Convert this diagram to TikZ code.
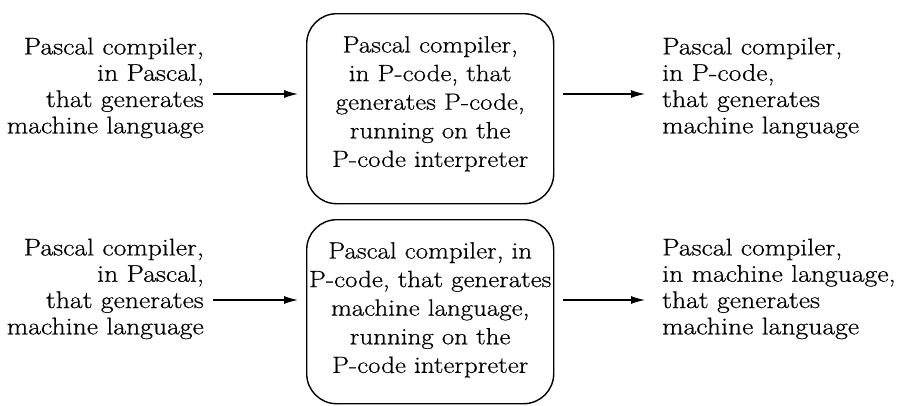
\documentclass[tikz,border=0pt]{standalone}
\usepackage{fontspec}
\setmainfont{Latin Modern Roman}[FakeStretch=1.15,FakeBold=0.6]
\usetikzlibrary{arrows.meta}
\begin{document}
\begin{tikzpicture}[x=1pt,y=-1pt,
  sidetext/.style={inner sep=0pt,font=\fontsize{24.1}{26.3}\selectfont},
  lefttext/.style={sidetext,align=right,anchor=north east},
  righttext/.style={sidetext,align=left,anchor=north west},
  boxtext/.style={inner sep=0pt,align=center,anchor=north,font=\fontsize{23.45}{28.6}\selectfont},
  stagebox/.style={draw,line width=1.4pt,rounded corners=30pt},
  flow/.style={line width=1.2pt,-{Latex[length=14pt,width=8pt]}}]
\useasboundingbox (0,0) rectangle (898,405);
% first pass: compiler running on the P-code interpreter emits P-code
\node[lefttext] (inA) at (204,37.5) {Pascal compiler,\\in Pascal,\\that generates\\machine language};
\node[stagebox,minimum width=247pt,minimum height=190pt,anchor=north west] (boxA) at (306,13) {};
\node[boxtext] (txtA) at (boxA.north |- 0,36) {Pascal compiler,\\in P-code, that\\generates P-code,\\running on the\\P-code interpreter};
\node[righttext] (outA) at (662,37.5) {Pascal compiler,\\in P-code,\\that generates\\machine language};
\coordinate (rowA) at (0,94);
\draw[flow,shorten <=9pt,shorten >=8pt] (inA.east |- rowA) -- (boxA.west |- rowA);
\draw[flow,shorten <=9pt,shorten >=17pt] (boxA.east |- rowA) -- (outA.west |- rowA);
% second pass: compiler running on the interpreter emits machine language
\node[lefttext] (inB) at (204,238.5) {Pascal compiler,\\in Pascal,\\that generates\\machine language};
\node[stagebox,minimum width=247pt,minimum height=184pt,anchor=north west] (boxB) at (306,219) {};
\node[boxtext] (txtB) at (boxB.north |- 0,242) {Pascal compiler, in\\P-code, that generates\\machine language,\\running on the\\P-code interpreter};
\node[righttext] (outB) at (662,238.5) {Pascal compiler,\\in machine language,\\that generates\\machine language};
\coordinate (rowB) at (0,300);
\draw[flow,shorten <=9pt,shorten >=8pt] (inB.east |- rowB) -- (boxB.west |- rowB);
\draw[flow,shorten <=9pt,shorten >=17pt] (boxB.east |- rowB) -- (outB.west |- rowB);
\end{tikzpicture}
\end{document}
